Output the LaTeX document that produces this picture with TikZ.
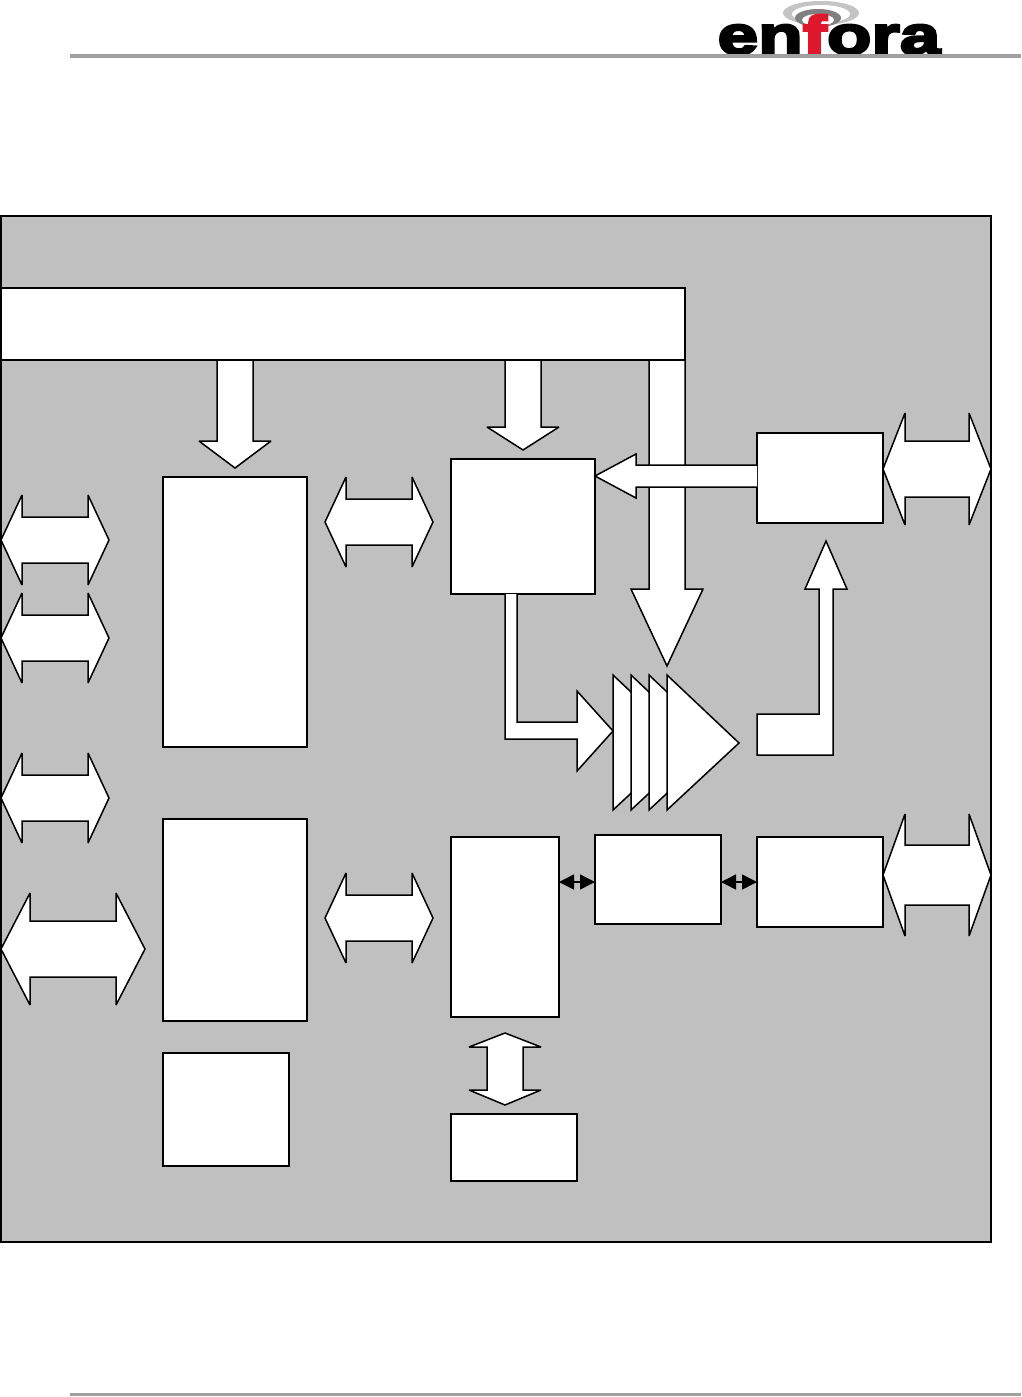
\documentclass[tikz,border=0pt]{standalone}
\usepackage{fontspec}
\newfontfamily\logofont[FakeStretch=1.35,FakeBold=5]{Liberation Sans Bold}
\usetikzlibrary{arrows.meta}
\definecolor{panel}{HTML}{C0C0C0}
\definecolor{rulegrey}{HTML}{A0A0A0}
\definecolor{logored}{HTML}{E0182D}
\definecolor{ringlight}{HTML}{C4C4C4}
\definecolor{ringdark}{HTML}{808080}
\tikzset{
  x=1pt,y=-1pt,
  blockbox/.style={draw=black,fill=white,line width=2pt,inner sep=0pt,outer sep=0pt,anchor=north west},
  blockarrow/.style={draw=black,fill=white,line width=1.5pt,line join=miter,miter limit=3},
  smallarrow/.style={draw=black,line width=1.5pt,{Triangle[length=15pt,width=15pt]}-{Triangle[length=15pt,width=15pt]},shorten >=0pt,shorten <=0pt},
  headrule/.style={fill=rulegrey,draw=none}
}
% name, x1,y1,x2,y2
\newcommand{\boxat}[5]{%
  \pgfmathsetlengthmacro{\bw}{#4-#2}\pgfmathsetlengthmacro{\bh}{#5-#3}%
  \node[blockbox,minimum width=\bw,minimum height=\bh] (#1) at (#2,#3) {};}
% double horizontal: x1,xb1,xb2,x2,ymid,head half,shaft half
\newcommand{\dblh}[7]{%
  \draw[blockarrow] (#1,#5) -- (#2,#5-#6) -- (#2,#5-#7) -- (#3,#5-#7) -- (#3,#5-#6) -- (#4,#5)
   -- (#3,#5+#6) -- (#3,#5+#7) -- (#2,#5+#7) -- (#2,#5+#6) -- cycle;}
\begin{document}
\begin{tikzpicture}
\useasboundingbox (0,0) rectangle (1021,1397);
\fill[white] (0,0) rectangle (1021,1397);
% logo
\fill[ringlight] (821,13) ellipse (38 and 12);
\fill[white] (821,14) ellipse (29 and 9);
\fill[ringdark] (818,18) ellipse (23 and 9);
\fill[white] (818,20) ellipse (16 and 6);
\node[inner sep=0pt,anchor=base,font=\logofont\fontsize{54pt}{54pt}\selectfont] (logo) at (829,54) {en\textcolor{logored}{f}ora};
\fill[headrule] (70,54) rectangle (1021,58);
\fill[headrule] (70,1393) rectangle (1021,1396);
% panel
\node[blockbox,fill=panel,minimum width=990pt,minimum height=1026pt] (panel) at (1,216) {};
\boxat{bar}{1}{288}{685}{360}
% arrows from bar
\draw[blockarrow] (217,360) -- (253,360) -- (253,441) -- (271,441) -- (235,468) -- (199,441) -- (217,441) -- cycle;
\draw[blockarrow] (505,360) -- (541,360) -- (541,427) -- (559,427) -- (523,450) -- (487,427) -- (505,427) -- cycle;
\draw[blockarrow] (649,360) -- (685,360) -- (685,589) -- (703,589) -- (667,666) -- (631,589) -- (649,589) -- cycle;
\boxat{a}{163}{477}{307}{747}
\boxat{b}{163}{819}{307}{1021}
\boxat{c}{163}{1053}{289}{1166}
\boxat{d}{451}{459}{595}{594}
\boxat{e}{757}{433}{883}{523}
\boxat{f}{451}{837}{559}{1017}
\boxat{g}{595}{835}{721}{924}
\boxat{h}{757}{837}{883}{927}
\boxat{i}{451}{1114}{577}{1181}
% left arrow into d
\draw[blockarrow] (757,465) -- (636,465) -- (636,454) -- (595,476) -- (636,498) -- (636,487) -- (757,487);
% double arrows
\dblh{1}{22}{88}{109}{540}{45}{23}
\dblh{1}{22}{88}{109}{638}{45}{23}
\dblh{1}{22}{88}{109}{798}{45}{23}
\dblh{1}{30}{116}{145}{949}{56}{28}
\dblh{325}{346}{412}{433}{522}{45}{23}
\dblh{325}{346}{412}{433}{918}{45}{23}
\dblh{883}{905}{969}{991}{469}{56}{28}
\dblh{883}{905}{969}{991}{875}{61}{30}
% vertical double
\draw[blockarrow] (505,1033) -- (541,1047) -- (523,1047) -- (523,1090) -- (541,1090) -- (505,1105) -- (469,1090) -- (487,1090) -- (487,1047) -- (469,1047) -- cycle;
% bent d to amp
\draw[blockarrow] (505,594) -- (505,739) -- (577,739) -- (577,771) -- (613,731) -- (577,691) -- (577,722) -- (517,722) -- (517,594);
% amplifier stack
\foreach \xx in {613,631,649}{
  \draw[blockarrow] (\xx,675) -- (\xx+72,743) -- (\xx,810) -- cycle;
}
\draw[blockarrow] (667,675) -- (739,743) -- (667,810) -- cycle;
% bent up
\draw[blockarrow] (757,714) -- (757,755) -- (833,755) -- (833,589) -- (847,589) -- (826,541) -- (805,589) -- (819,589) -- (819,714) -- cycle;
% small arrows
\coordinate (fg1) at (559,882); \coordinate (fg2) at (595,882);
\coordinate (gh1) at (721,882); \coordinate (gh2) at (757,882);
\draw[smallarrow] (fg1) -- (fg2);
\draw[smallarrow] (gh1) -- (gh2);
\end{tikzpicture}
\end{document}
